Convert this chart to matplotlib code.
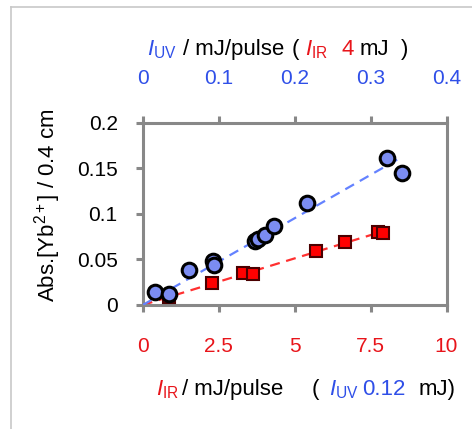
import numpy as np
import matplotlib
matplotlib.use('Agg')
import matplotlib.pyplot as plt
from matplotlib.lines import Line2D

plt.rcParams['font.family'] = ['Liberation Sans', 'DejaVu Sans']
plt.rcParams['mathtext.fontset'] = 'custom'
plt.rcParams['mathtext.rm'] = 'Liberation Sans'
plt.rcParams['mathtext.it'] = 'Liberation Sans:italic'

# UV energy series (top axis) and IR energy series (bottom axis)
uv_x = [0.016, 0.035, 0.061, 0.092, 0.094, 0.148, 0.152, 0.161, 0.173, 0.216, 0.322, 0.342]
uv_y = [0.0146, 0.0117, 0.0384, 0.0486, 0.0439, 0.0705, 0.0725, 0.0768, 0.0867, 0.1122, 0.161, 0.1445]
ir_x = [0.876, 2.29, 3.31, 3.64, 5.71, 6.67, 7.73, 7.91]
ir_y = [0.0091, 0.0238, 0.0354, 0.034, 0.0592, 0.0694, 0.0797, 0.0793]
uv_fit_max = 0.335
ir_fit_max = 8.04

ir_ticks = [0, 2.5, 5, 7.5, 10]
ir_ticklabels = ['0', '2.5', '5', '7.5', '10']
uv_ticks = [0, 0.1, 0.2, 0.3, 0.4]
uv_ticklabels = ['0', '0.1', '0.2', '0.3', '0.4']
y_ticks = [0, 0.05, 0.1, 0.15, 0.2]
y_ticklabels = ['0', '0.05', '0.1', '0.15', '0.2']

BLUE = '#2f4fe8'
RED = '#e8141a'
GRAY = '#888888'

W, H = 472, 429
fig = plt.figure(figsize=(W / 100, H / 100), dpi=100)
ax = fig.add_axes([142.7 / W, 1 - 305 / H, (446.5 - 142.7) / W, (305 - 122.7) / H])
ax2 = ax.twiny()

# fit lines through origin
uvx, uvy = np.array(uv_x), np.array(uv_y)
irx, iry = np.array(ir_x), np.array(ir_y)
k_uv = np.sum(uvx * uvy) / np.sum(uvx ** 2)
k_ir = np.sum(irx * iry) / np.sum(irx ** 2)

xs = np.array([0, ir_fit_max])
ax.plot(xs, k_ir * xs, '--', color='#ff3030', lw=1.6, dashes=(4.5, 3), zorder=2)
ax.plot(ir_x, ir_y, 's', ms=8, mfc='#ff0000', mec='#4a0000', mew=1.5, zorder=3)

xs = np.array([0, uv_fit_max])
ax2.plot(xs, k_uv * xs, '--', color='#6482ff', lw=1.6, dashes=(4.5, 3), zorder=2)
ax2.plot(uv_x, uv_y, 'o', ms=10.5, mfc='#7b8cf2', mec='black', mew=2.2, zorder=3)

ax.set_xlim(0, 10)
ax.set_ylim(0, 0.2)
ax2.set_xlim(0, 0.4)

ax.set_xticks(ir_ticks)
ax.set_xticklabels(ir_ticklabels)
ax.set_yticks(y_ticks)
ax.set_yticklabels(y_ticklabels)
ax2.set_xticks(uv_ticks)
ax2.set_xticklabels(uv_ticklabels)

for s in ax.spines.values():
    s.set_color(GRAY)
    s.set_linewidth(2.2)
for s in ax2.spines.values():
    s.set_visible(False)

ax.tick_params(axis='x', direction='out', length=5, width=2.2, color=GRAY,
               labelsize=15, labelcolor=RED, pad=18)
ax.tick_params(axis='y', direction='out', length=5, width=2.2, color=GRAY,
               labelsize=15, labelcolor='black', pad=13)
ax2.tick_params(axis='x', direction='out', length=5, width=2.2, color=GRAY,
                labelsize=15, labelcolor=BLUE, pad=20)
ax2.tick_params(axis='y', left=False, right=False, labelleft=False, labelright=False)


def put(x, y, s, c, size=16):
    fig.text(x / W, 1 - y / H, s, color=c, fontsize=size, ha='left', va='baseline')


# top label
put(147, 55, r'$\mathit{I}_{\mathrm{UV}}$', BLUE)
put(183, 55, '/ mJ/pulse', 'black')
put(292, 55, '(', 'black')
put(305, 55, r'$\mathit{I}_{\mathrm{IR}}$', RED)
put(341, 55, '4', RED)
put(360, 55, 'mJ', 'black')
put(401, 55, ')', 'black')

# bottom label
put(156, 395, r'$\mathit{I}_{\mathrm{IR}}$', RED)
put(182, 395, '/ mJ/pulse', 'black')
put(312, 395, '(', 'black')
put(329, 395, r'$\mathit{I}_{\mathrm{UV}}$', BLUE)
put(362, 395, '0.12', BLUE)
put(419, 395, 'mJ)', 'black')

fig.text(48 / W, 1 - 205 / H, r'Abs.[Yb$^{2+}$] / 0.4 cm', rotation=90,
         fontsize=16, ha='center', va='center')

# light frame
fig.add_artist(Line2D([11 / W, 11 / W], [0, 1 - 7 / H], color='#c8c8c8', lw=1.2))
fig.add_artist(Line2D([11 / W, 1], [1 - 7 / H, 1 - 7 / H], color='#c8c8c8', lw=1.2))

fig.savefig('out.png', dpi=100)
